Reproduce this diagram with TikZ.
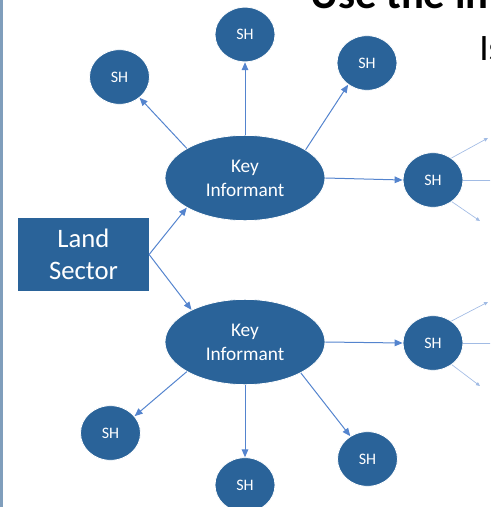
\documentclass[tikz,border=0pt]{standalone}
\usepackage{fontspec}
\setmainfont{Carlito}
\usepackage{xcolor}
\usetikzlibrary{shapes.geometric,arrows.meta}

\definecolor{nodeblue}{RGB}{42,99,153}
\definecolor{linkblue}{RGB}{84,132,206}
\definecolor{framegray}{RGB}{128,158,188}

\tikzset{
  sh/.style={ellipse, draw=white, line width=0.6pt, fill=nodeblue, text=white,
    minimum width=45pt, minimum height=41pt, inner sep=0pt, font=\fontsize{12}{14}\selectfont},
  keyinf/.style={ellipse, draw=white, line width=0.6pt, fill=nodeblue, text=white,
    minimum width=120pt, minimum height=64pt, inner sep=0pt, align=center,
    font=\fontsize{14.5}{18}\selectfont},
  sector/.style={rectangle, fill=nodeblue, text=white, minimum width=98pt,
    minimum height=55pt, align=center, font=\fontsize{20}{24.5}\selectfont},
  link/.style={-{Triangle[length=6pt,width=5pt]}, draw=linkblue, line width=0.75pt},
  faint/.style={-{Triangle[length=3pt,width=2.6pt]}, draw=linkblue!55, line width=0.5pt}
}

\begin{document}
\begin{tikzpicture}[x=0.75pt, y=-0.75pt]
    \useasboundingbox (0,0) rectangle (490,507);
    \clip (0,0) rectangle (490,507);

    % Slide frame and texts
    \fill[framegray] (0,0) rectangle (2.5,507);
    \node[anchor=base west, inner sep=0pt, font=\fontsize{32}{36}\selectfont\bfseries] (title) at (310,8) {Use the in};
    \node[anchor=base west, inner sep=0pt, font=\fontsize{28}{32}\selectfont] (body) at (479,60) {Is};

    % Sector
    \node[sector] (land) at (83.5,254.5) {Land\\Sector};

    % Key informants
    \node[keyinf] (kiA) at (245,178) {Key\\Informant};
    \node[keyinf] (kiB) at (245,342) {Key\\Informant};

    % Stakeholders of the first key informant
    \node[sh] (shA1) at (119.5,77) {SH};
    \node[sh] (shA2) at (245,34.5) {SH};
    \node[sh] (shA3) at (367,63) {SH};
    \node[sh] (shA4) at (433,180) {SH};

    % Stakeholders of the second key informant
    \node[sh] (shB1) at (110.5,433) {SH};
    \node[sh] (shB2) at (245,485) {SH};
    \node[sh] (shB3) at (367.5,459) {SH};
    \node[sh] (shB4) at (433,343) {SH};

    % Loose ends on the right
    \coordinate (outA1) at (488,138);
    \coordinate (outA2) at (495,180);
    \coordinate (outA3) at (480,221);
    \coordinate (outB1) at (488,302);
    \coordinate (outB2) at (495,343);
    \coordinate (outB3) at (480,386);

    % Arrows
    \draw[link] (land.east) -- (kiA.207);
    \draw[link] (land.east) -- (kiB.149);

    \draw[link] (kiA.153) -- (shA1.314);
    \draw[link] (kiA.north) -- (shA2.south);
    \draw[link] (kiA.25) -- (shA3.229);
    \draw[link] (kiA.east) -- (shA4.west);

    \draw[link] (kiB.207) -- (shB1.35);
    \draw[link] (kiB.south) -- (shB2.north);
    \draw[link] (kiB.331) -- (shB3.127);
    \draw[link] (kiB.east) -- (shB4.west);

    \draw[faint] (shA4.50) -- (outA1);
    \draw[faint, -] (shA4.east) -- (outA2);
    \draw[faint] (shA4.311) -- (outA3);
    \draw[faint] (shB4.50) -- (outB1);
    \draw[faint, -] (shB4.east) -- (outB2);
    \draw[faint] (shB4.311) -- (outB3);
\end{tikzpicture}
\end{document}
